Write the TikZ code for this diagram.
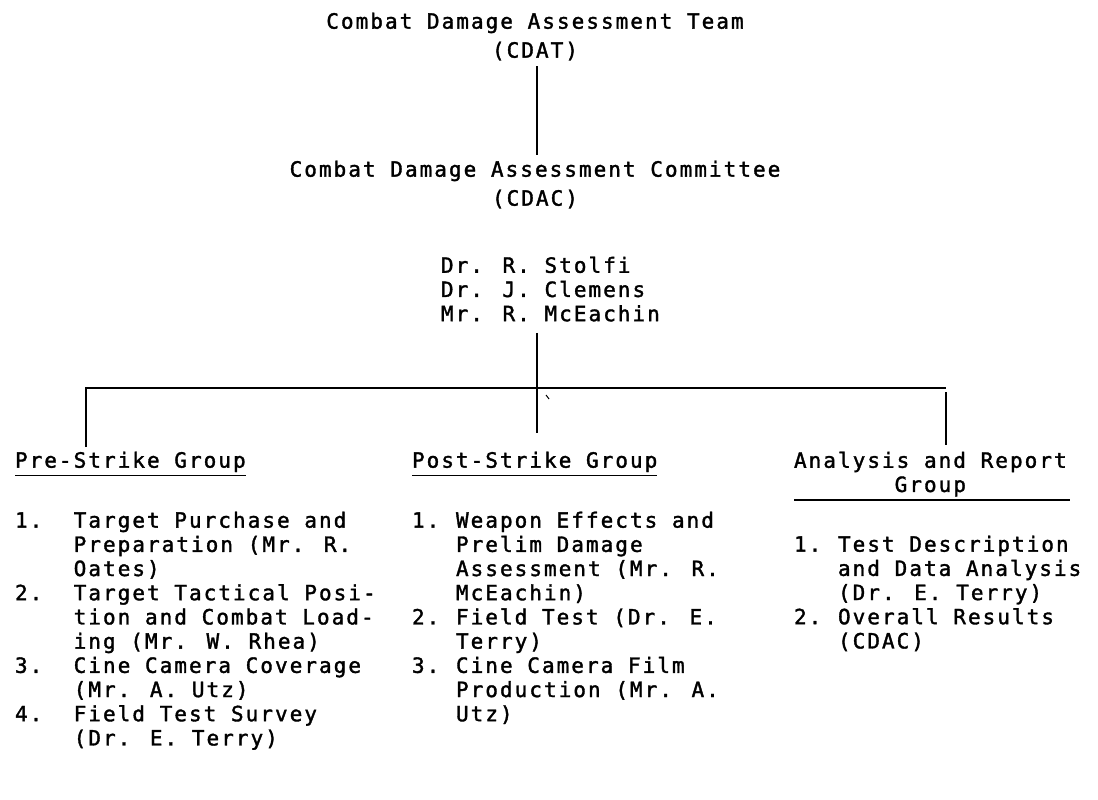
\documentclass[tikz,border=0pt]{standalone}
\usepackage{fontspec}
\usepackage{array}
\newfontfamily\tw[LetterSpace=9.66,FakeBold=1.6]{DejaVu Sans Mono}
\begin{document}
\begin{tikzpicture}[x=1pt,y=-1pt,
  txt/.style={font=\tw\fontsize{21}{24.2}\selectfont, inner sep=0pt, outer sep=0pt},
  ttl/.style={font=\tw\fontsize{21}{29}\selectfont, inner sep=0pt, outer sep=0pt, align=center, anchor=north},
  conn/.style={line width=2.2pt},
  uline/.style={line width=1.8pt}]
\useasboundingbox[fill=white] (0,0) rectangle (1098,800);

% top of chart
\node[ttl] (cdat) at (535,12.7)
  {Combat Damage Assessment Team\\(CDAT)};
\node[ttl] (cdac) at (535,160.7)
  {Combat Damage Assessment Committee\\(CDAC)};
\node[txt, align=left, anchor=north west] (mem) at (441,256.7)
  {Dr. R. Stolfi\\Dr. J. Clemens\\Mr. R. McEachin};

% group headers
\node[txt, anchor=north west] (pre) at (15,451.7) {Pre-Strike Group};
\node[txt, anchor=north west] (post) at (412,451.7) {Post-Strike Group};
\node[txt, align=center, anchor=north west] (ana) at (794,451.7)
  {Analysis and Report\\Group};

% lists
\node[txt, anchor=north west] (preL) at (15,510.7) {%
\begin{tabular}{@{}p{58.7pt}@{}l@{}}
1. & Target Purchase and\\
   & Preparation (Mr. R.\\
   & Oates)\\
2. & Target Tactical Posi-\\
   & tion and Combat Load-\\
   & ing (Mr. W. Rhea)\\
3. & Cine Camera Coverage\\
   & (Mr. A. Utz)\\
4. & Field Test Survey\\
   & (Dr. E. Terry)
\end{tabular}};
\node[txt, anchor=north west] (postL) at (412,510.7) {%
\begin{tabular}{@{}p{44pt}@{}l@{}}
1. & Weapon Effects and\\
   & Prelim Damage\\
   & Assessment (Mr. R.\\
   & McEachin)\\
2. & Field Test (Dr. E.\\
   & Terry)\\
3. & Cine Camera Film\\
   & Production (Mr. A.\\
   & Utz)
\end{tabular}};
\node[txt, anchor=north west] (anaL) at (794,534.7) {%
\begin{tabular}{@{}p{44pt}@{}l@{}}
1. & Test Description\\
   & and Data Analysis\\
   & (Dr. E. Terry)\\
2. & Overall Results\\
   & (CDAC)
\end{tabular}};

% underlines
\draw[uline] ([yshift=-3.5pt]pre.south west) -- ([yshift=-3.5pt]pre.south east);
\draw[uline] ([yshift=-3.5pt]post.south west) -- ([yshift=-3.5pt]post.south east);
\draw[uline] ([yshift=-3.5pt]ana.south west) -- ([yshift=-3.5pt,xshift=3pt]ana.south east);

% connectors
\coordinate (jL) at (86,388);
\coordinate (jC) at (537,388);
\coordinate (jR) at (946,388);
\draw[conn, shorten <=5.6pt, shorten >=5.7pt] (cdat.south -| jC) -- (cdac.north -| jC);
\draw[conn, shorten <=11.3pt, shorten >=18.7pt] (jC |- mem.south) -- (jC |- post.north);
\draw[conn, shorten <=4.7pt] (jL |- pre.north) -- (jL) -- (jR);
\draw[conn, shorten <=4pt, shorten >=6.7pt] (jR) -- (jR |- ana.north);
\draw[line width=1pt] (546,395) -- (549,399);
\end{tikzpicture}
\end{document}
